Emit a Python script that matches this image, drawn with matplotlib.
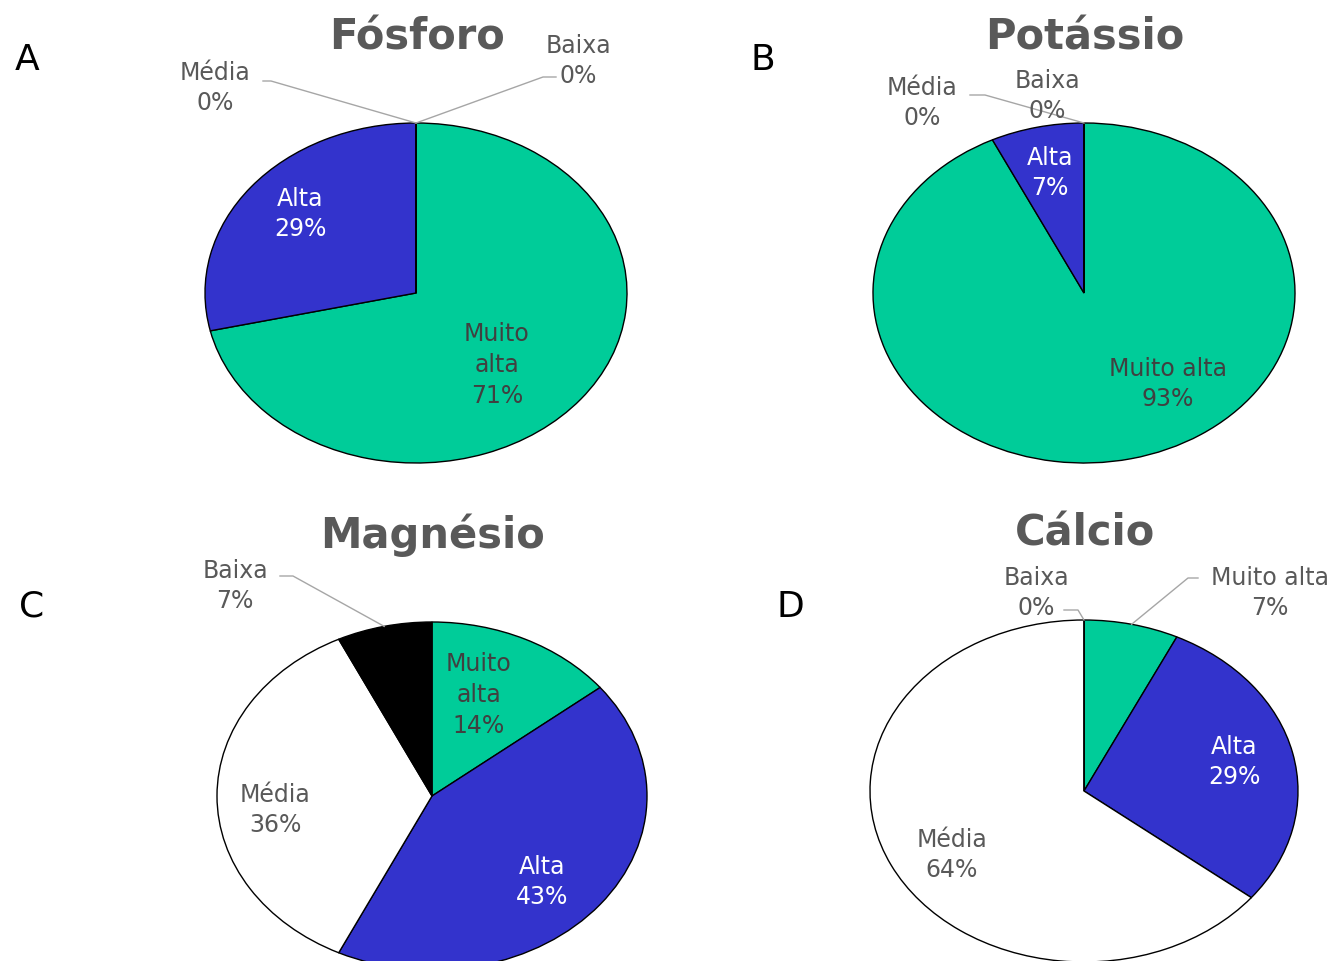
import matplotlib
matplotlib.use("Agg")
import matplotlib.pyplot as plt
import numpy as np
from matplotlib.lines import Line2D

plt.rcParams['font.family'] = ['DejaVu Sans']

# classes in clockwise order from 12 o'clock
classes = ["Muito alta", "Alta", "Média", "Baixa"]
colors = ["#00CC99", "#3333CC", "#FFFFFF", "#000000"]

# number of samples (n = 14) per class
fosforo = [10, 4, 0, 0]
potassio = [13, 1, 0, 0]
magnesio = [2, 6, 5, 1]
calcio = [1, 4, 9, 0]

titles = ["Fósforo", "Potássio", "Magnésio", "Cálcio"]
letters = ["A", "B", "C", "D"]

W, H = 1339, 962
fig = plt.figure(figsize=(W / 100, H / 100), dpi=100)


def fx(x):
    return x / W


def fy(y):
    return 1 - y / H


# pie ellipse geometry in pixels: centre x, centre y, half width, half height
panels = [
    dict(data=fosforo, c=(416, 294), r=(211, 170), title=(417, 38), letter=(27, 60)),
    dict(data=potassio, c=(1084, 294), r=(211, 170), title=(1085, 37), letter=(763, 60)),
    dict(data=magnesio, c=(432, 797), r=(215, 174), title=(432, 535), letter=(32, 607)),
    dict(data=calcio, c=(1084, 792), r=(214, 171), title=(1085, 533), letter=(790, 607)),
]

# label placement per panel: class -> (x, y, line break style, colour)
label_pos = [
    {"Muito alta": (497, 365, "3", "#404040"), "Alta": (300, 214, "2", "white"),
     "Média": (215, 88, "2", "#595959"), "Baixa": (578, 61, "2", "#595959")},
    {"Muito alta": (1168, 384, "2", "#404040"), "Alta": (1050, 173, "2", "white"),
     "Média": (922, 103, "2", "#595959"), "Baixa": (1047, 96, "2", "#595959")},
    {"Muito alta": (479, 695, "3", "#404040"), "Alta": (542, 882, "2", "white"),
     "Média": (275, 810, "2", "#595959"), "Baixa": (235, 586, "2", "#595959")},
    {"Muito alta": (1270, 593, "2", "#595959"), "Alta": (1234, 762, "2", "white"),
     "Média": (952, 855, "2", "#595959"), "Baixa": (1036, 593, "2", "#595959")},
]

# leader lines: class -> (text-side x, y, stub end x)
leaders = [
    {"Média": (263, 82, 271), "Baixa": (556, 78, 543)},
    {"Média": (970, 96, 985)},
    {"Baixa": (280, 577, 293)},
    {"Baixa": (1064, 611, 1078), "Muito alta": (1198, 579, 1188)},
]

for i, p in enumerate(panels):
    cx, cy = p["c"]
    rx, ry = p["r"]
    ax = fig.add_axes([fx(cx - rx), fy(cy + ry), fx(2 * rx), 2 * ry / H])
    vals = np.array(p["data"], dtype=float)
    ax.pie(vals, colors=colors, startangle=90, counterclock=False,
           wedgeprops=dict(edgecolor="black", linewidth=1.0))
    ax.set_aspect("auto")
    ax.set_xlim(-1, 1)
    ax.set_ylim(-1, 1)
    ax.axis("off")

    pct = 100 * vals / vals.sum()
    for cls, v in zip(classes, pct):
        x, y, style, col = label_pos[i][cls]
        name = cls
        if style == "3":
            name = cls.replace(" ", "\n")
        txt = f"{name}\n{v:.0f}%"
        fig.text(fx(x), fy(y), txt, ha="center", va="center", fontsize=17,
                 color=col, linespacing=1.35)

    # leader lines to wedge mid-angle on the rim
    cum = np.concatenate([[0], np.cumsum(vals)]) / vals.sum()
    for cls, (tx, ty, sx) in leaders[i].items():
        k = classes.index(cls)
        mid = np.deg2rad(90 - 360 * (cum[k] + cum[k + 1]) / 2)
        px = cx + np.cos(mid) * rx
        py = cy - np.sin(mid) * ry
        fig.add_artist(Line2D([fx(tx), fx(sx), fx(px)], [fy(ty), fy(ty), fy(py)],
                              transform=fig.transFigure, color="#A6A6A6", lw=1.0))

    fig.text(fx(p["title"][0]), fy(p["title"][1]), titles[i], ha="center", va="center",
             fontsize=30, fontweight="bold", color="#595959")
    fig.text(fx(p["letter"][0]), fy(p["letter"][1]), letters[i], ha="center", va="center",
             fontsize=26, color="black")

fig.savefig("out.png", dpi=100, facecolor="white")
